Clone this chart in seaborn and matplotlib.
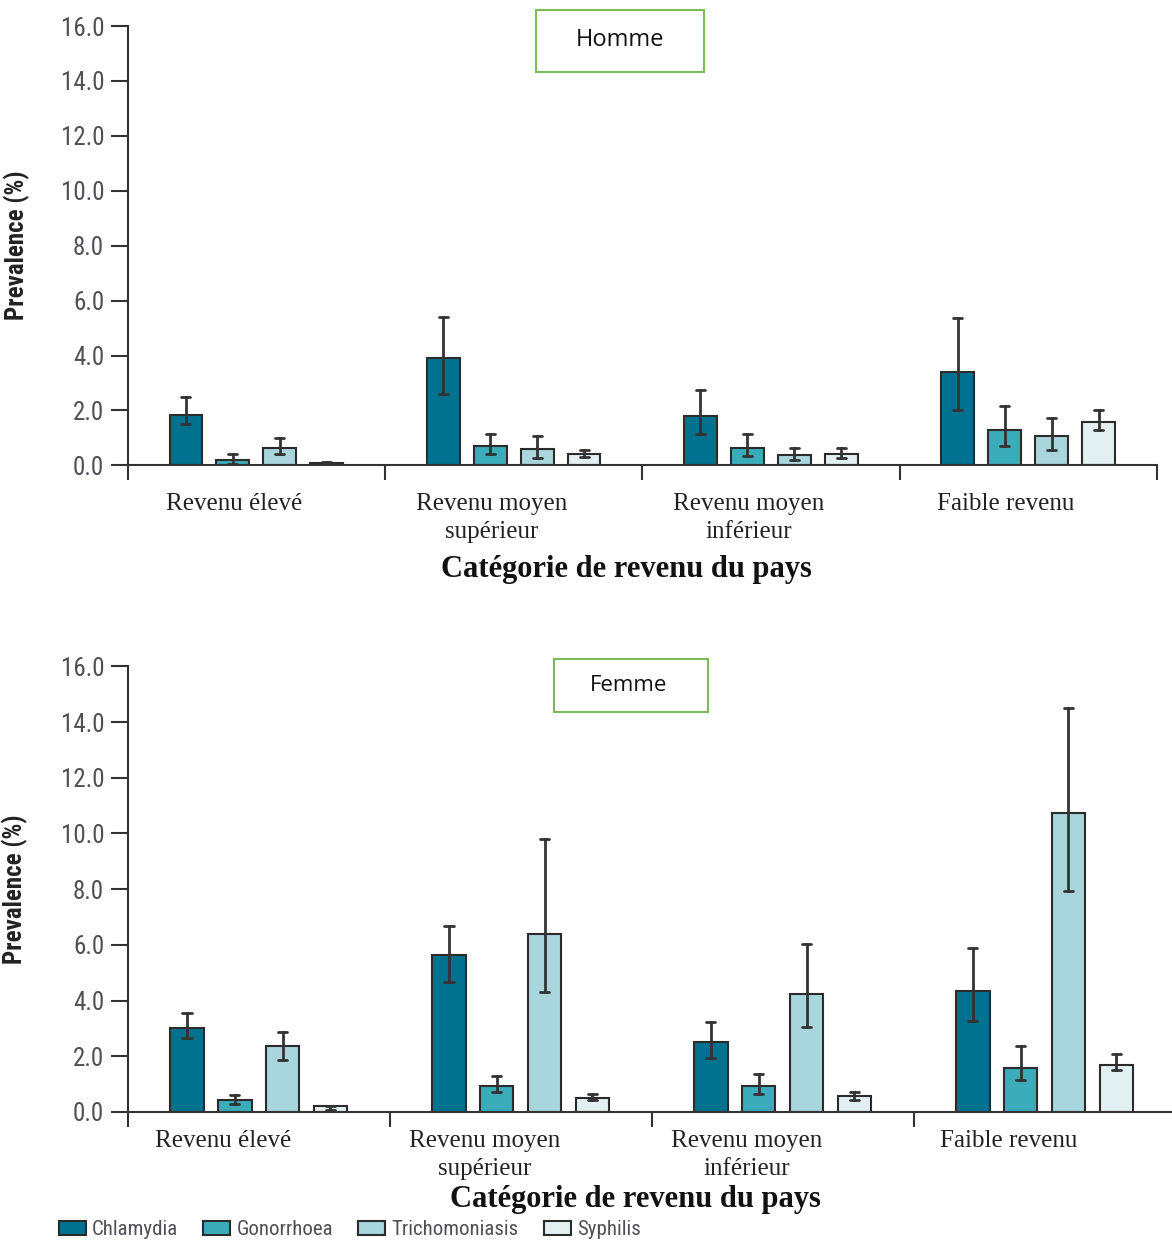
import pandas as pd
import matplotlib
matplotlib.use("Agg")
import matplotlib.pyplot as plt
from matplotlib.patches import Rectangle
from matplotlib.transforms import offset_copy
import seaborn as sns

# Step 1: categories and series (prevalence %, with lower / upper bounds)
groups = ["Revenu élevé", "Revenu moyen\nsupérieur", "Revenu moyen\ninférieur", "Faible revenu"]
infections = ["Chlamydia", "Gonorrhoea", "Trichomoniasis", "Syphilis"]
colors = ["#00728f", "#3aacba", "#a9d5dc", "#e3f0f2"]

# Homme
h_chlamydia = [1.85, 3.9, 1.8, 3.4]
h_chlamydia_lo = [1.5, 2.6, 1.15, 2.0]
h_chlamydia_hi = [2.5, 5.4, 2.75, 5.35]
h_gonorrhoea = [0.2, 0.7, 0.65, 1.3]
h_gonorrhoea_lo = [0.04, 0.4, 0.35, 0.7]
h_gonorrhoea_hi = [0.43, 1.14, 1.15, 2.15]
h_trich = [0.65, 0.58, 0.36, 1.08]
h_trich_lo = [0.41, 0.28, 0.2, 0.56]
h_trich_hi = [1.0, 1.06, 0.64, 1.73]
h_syphilis = [0.07, 0.43, 0.43, 1.58]
h_syphilis_lo = [0.03, 0.29, 0.27, 1.28]
h_syphilis_hi = [0.12, 0.57, 0.64, 2.02]

# Femme
f_chlamydia = [3.0, 5.65, 2.5, 4.35]
f_chlamydia_lo = [2.64, 4.65, 1.92, 3.28]
f_chlamydia_hi = [3.57, 6.66, 3.22, 5.9]
f_gonorrhoea = [0.43, 0.93, 0.93, 1.59]
f_gonorrhoea_lo = [0.29, 0.71, 0.64, 1.14]
f_gonorrhoea_hi = [0.6, 1.29, 1.36, 2.36]
f_trich = [2.36, 6.39, 4.22, 10.75]
f_trich_lo = [1.86, 4.29, 3.06, 7.95]
f_trich_hi = [2.86, 9.81, 6.03, 14.49]
f_syphilis = [0.21, 0.5, 0.57, 1.7]
f_syphilis_lo = [0.06, 0.43, 0.43, 1.49]
f_syphilis_hi = [0.22, 0.64, 0.73, 2.09]

yticks = [0, 2, 4, 6, 8, 10, 12, 14, 16]


def long_df(series):
    # three rows per bar: lower, value, upper -> median = value, min/max = interval
    rows = []
    for name, (vals, lows, highs) in zip(infections, series):
        for g, v, lo, hi in zip(groups, vals, lows, highs):
            for x in (lo, v, hi):
                rows.append({"group": g, "infection": name, "value": x})
    return pd.DataFrame(rows)


homme = long_df([
    (h_chlamydia, h_chlamydia_lo, h_chlamydia_hi),
    (h_gonorrhoea, h_gonorrhoea_lo, h_gonorrhoea_hi),
    (h_trich, h_trich_lo, h_trich_hi),
    (h_syphilis, h_syphilis_lo, h_syphilis_hi),
])
femme = long_df([
    (f_chlamydia, f_chlamydia_lo, f_chlamydia_hi),
    (f_gonorrhoea, f_gonorrhoea_lo, f_gonorrhoea_hi),
    (f_trich, f_trich_lo, f_trich_hi),
    (f_syphilis, f_syphilis_lo, f_syphilis_hi),
])

# Step 2: style
sns.set_style("ticks")
narrow = ["Roboto Condensed", "Liberation Sans Narrow", "Liberation Sans", "DejaVu Sans"]
serif = ["Liberation Serif", "DejaVu Serif"]
plt.rcParams["font.family"] = narrow

fig = plt.figure(figsize=(11.72, 12.41), dpi=100)
ax_top = fig.add_axes([0.109, 0.625, 0.878, 0.354])
ax_bot = fig.add_axes([0.109, 0.104, 0.894, 0.359])


def draw(ax, df, tick_pad, label_shift, xlabel_y):
    sns.barplot(data=df, x="group", y="value", hue="infection",
                order=groups, hue_order=infections, palette=colors,
                saturation=1, estimator="median",
                errorbar=lambda v: (v.min(), v.max()),
                capsize=0.14, err_kws={"color": "#333333", "linewidth": 2},
                width=0.73, gap=0.3, edgecolor="#2b2b2b", linewidth=1.5, ax=ax)
    ax.set_xlim(-0.5, 3.5)
    ax.set_ylim(0, 16)
    ax.set_yticks(yticks)
    ax.set_yticklabels([f"{t:.1f}" for t in yticks], fontsize=18, color="#4f4f55")
    ax.tick_params(axis="y", length=12, width=1.5, color="#333333", pad=5)
    ax.set_xticks([-0.5, 0.5, 1.5, 2.5, 3.5], minor=True)
    ax.tick_params(axis="x", which="minor", length=11, width=1.5, color="#333333")
    ax.tick_params(axis="x", which="major", length=0, pad=tick_pad)
    for lbl in ax.get_xticklabels():
        lbl.set_fontfamily(serif)
        lbl.set_fontsize(18)
        lbl.set_color("#222222")
        lbl.set_linespacing(1.35)
        lbl.set_transform(offset_copy(lbl.get_transform(), fig=fig, x=label_shift, y=0, units="dots"))
    for s in ("top", "right"):
        ax.spines[s].set_visible(False)
    for s in ("left", "bottom"):
        ax.spines[s].set_linewidth(1.5)
        ax.spines[s].set_color("#333333")
    ax.set_ylabel("Prevalence (%)", fontsize=18, fontweight="bold", color="#222222")
    ax.yaxis.set_label_coords(-0.095, 0.5)
    ax.set_xlabel("Catégorie de revenu du pays", fontsize=22, fontweight="bold",
                  fontfamily=serif, color="#111111")
    ax.xaxis.set_label_coords(0.485, xlabel_y)


draw(ax_top, homme, 20, -22, -0.205)
draw(ax_bot, femme, 13, -36, -0.165)

handles, labels = ax_bot.get_legend_handles_labels()
ax_top.get_legend().remove()
ax_bot.get_legend().remove()
fig.legend(handles, labels, loc="center left", bbox_to_anchor=(0.034, 0.009),
           ncol=4, frameon=False, fontsize=15, handlelength=1.3, handleheight=0.7,
           handletextpad=0.3, columnspacing=1.2, labelcolor="#4f4f55")

# title boxes
green = "#7dbb57"
fig.add_artist(Rectangle((0.457, 0.942), 0.144, 0.050, transform=fig.transFigure,
                         fill=False, edgecolor=green, linewidth=1.5))
fig.text(0.529, 0.968, "Homme", ha="center", va="center", fontsize=17,
         fontfamily=["Open Sans", "DejaVu Sans"], color="#111111")
fig.add_artist(Rectangle((0.4727, 0.4263), 0.1314, 0.0427, transform=fig.transFigure,
                         fill=False, edgecolor=green, linewidth=1.5))
fig.text(0.5367, 0.448, "Femme", ha="center", va="center", fontsize=16,
         fontfamily=["Open Sans", "DejaVu Sans"], color="#111111")

fig.savefig("out.png", dpi=100, facecolor="white")
